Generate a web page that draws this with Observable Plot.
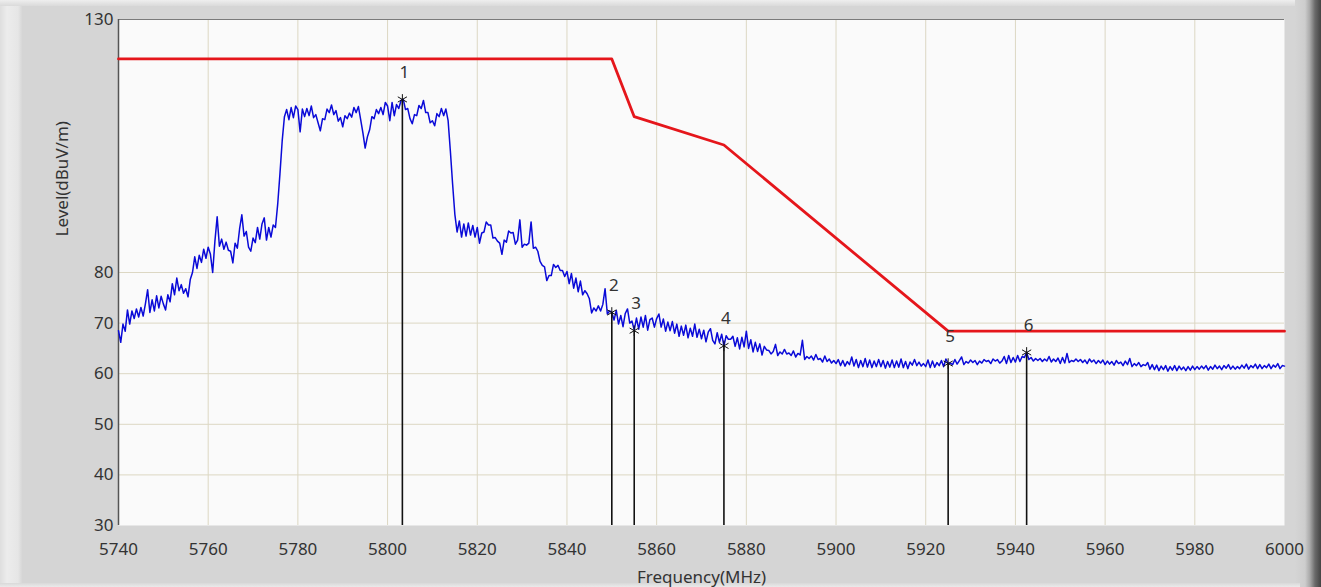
<!DOCTYPE html>
<html>
<head>
<meta charset="utf-8">
<script src="https://cdn.jsdelivr.net/npm/d3@7"></script>
<script src="https://cdn.jsdelivr.net/npm/@observablehq/plot@0.6"></script>
<style>
  html, body { margin: 0; padding: 0; background: #d5d5d5; }
  #wrap { position: relative; width: 1321px; height: 587px; background: #d5d5d5; overflow: hidden; }
  #wrap .edge { position: absolute; }
  #leftEdge { left: 0; top: 0; width: 22px; height: 587px; background: linear-gradient(to right, #dedede 0px, #ececec 7px, #e6e6e6 18px, #d7d7d7 22px); }
  #topEdge { left: 0; top: 0; width: 1321px; height: 6px; background: linear-gradient(to bottom, #eeeeee, #dadada); }
  #rightEdge { right: 0; top: 0; width: 26px; height: 587px; background: linear-gradient(to right, #d5d5d5 0px, #cdcdcd 10px, #a8a8a8 15px, #6a6a6a 20px, #444444 26px); }
  #bottomEdge { left: 0; bottom: 0; width: 1300px; height: 4px; background: linear-gradient(to bottom, #d9d9d9, #eaeaea); }
  #chart { position: absolute; left: 0; top: 0; }
</style>
</head>
<body>
<div id="wrap">
  <div class="edge" id="leftEdge"></div>
  <div class="edge" id="topEdge"></div>
  <div class="edge" id="rightEdge"></div>
  <div class="edge" id="bottomEdge"></div>
  <div id="chart"></div>
</div>
<script>
// ---- Data ----
const sweepStartMHz = 5740;
const sweepStepMHz = 0.5;
const traceLevels = [
  68.5, 66.2, 69.8, 68.4, 72.6, 69.8, 72.4, 70.9, 72.8, 71.2, 73.1, 71.4, 73.8, 76.6, 72.1, 74.6, 72.4, 75.4, 73.0, 75.3,
  73.8, 72.6, 75.6, 74.2, 77.8, 75.6, 78.9, 76.4, 77.6, 75.9, 76.8, 75.2, 78.6, 80.0, 83.1, 80.8, 83.4, 82.0, 84.6, 82.8,
  85.0, 83.6, 80.0, 86.2, 91.0, 85.2, 86.6, 84.6, 86.0, 84.4, 84.2, 81.9, 85.8, 84.8, 88.6, 91.4, 87.2, 88.1, 85.0, 84.2,
  86.8, 85.9, 88.9, 86.6, 89.6, 90.8, 86.4, 88.9, 87.0, 89.4, 88.9, 93.5, 99.5, 106.0, 110.8, 112.2, 110.2, 112.6, 110.6, 112.9,
  112.2, 107.8, 112.3, 110.8, 112.4, 111.0, 112.9, 110.6, 111.2, 109.6, 108.0, 110.4, 110.2, 112.3, 111.6, 113.1, 111.2, 112.0, 109.9, 110.6,
  108.8, 111.0, 110.4, 111.5, 110.7, 112.6, 111.6, 112.8, 110.2, 107.6, 104.6, 106.8, 108.2, 110.8, 110.4, 112.2, 111.4, 112.6, 111.2, 113.6,
  112.9, 110.0, 113.6, 111.0, 113.2, 112.4, 114.0, 114.2, 112.2, 112.4, 110.4, 109.4, 111.2, 111.0, 113.0, 112.4, 114.0, 111.6, 111.6, 109.6,
  110.0, 109.0, 111.4, 110.8, 112.4, 111.0, 112.3, 110.0, 104.0, 97.5, 91.5, 88.0, 90.2, 87.0, 89.6, 87.2, 89.8, 87.4, 89.3, 87.0,
  88.9, 85.8, 87.8, 88.0, 90.0, 89.4, 89.4, 86.8, 86.9, 86.2, 85.8, 83.6, 86.4, 86.0, 88.2, 87.8, 87.9, 85.6, 86.4, 90.4,
  85.0, 85.6, 85.4, 85.8, 90.0, 84.8, 85.0, 84.2, 82.2, 81.4, 81.1, 78.4, 79.4, 79.4, 81.6, 81.0, 81.4, 80.4, 80.4, 79.2,
  80.2, 77.8, 79.8, 76.9, 78.9, 76.2, 78.3, 75.6, 76.4, 75.8, 74.8, 72.0, 73.0, 72.4, 73.4, 72.4, 73.7, 76.8, 71.8, 72.4,
  72.1, 70.6, 72.5, 69.8, 71.5, 69.3, 71.9, 72.8, 70.0, 70.4, 68.6, 71.0, 68.8, 71.2, 69.2, 71.5, 68.6, 70.7, 71.0, 69.2,
  70.9, 71.8, 69.2, 70.8, 68.4, 70.2, 68.5, 70.3, 68.0, 69.8, 67.4, 69.4, 67.6, 69.6, 67.1, 69.0, 67.4, 69.8, 67.2, 68.8,
  66.9, 68.6, 66.3, 68.2, 68.9, 66.6, 65.9, 68.1, 66.2, 67.8, 65.5, 67.5, 66.8, 66.8, 67.4, 65.4, 67.1, 64.9, 67.2, 65.3,
  68.4, 65.0, 66.7, 64.3, 66.2, 64.4, 65.9, 63.7, 65.4, 64.7, 64.6, 63.9, 64.4, 65.8, 63.6, 64.3, 63.9, 64.8, 63.9, 64.1,
  63.6, 64.5, 63.3, 64.0, 63.7, 66.6, 62.8, 63.4, 63.0, 63.5, 62.7, 63.8, 62.8, 63.0, 62.3, 63.5, 62.4, 62.9, 62.1, 62.6,
  62.0, 62.8, 61.6, 62.6, 61.5, 62.4, 61.8, 63.3, 61.5, 62.8, 61.2, 62.6, 61.4, 63.0, 61.3, 62.7, 61.2, 62.5, 61.4, 62.8,
  61.4, 62.6, 61.1, 62.4, 61.3, 62.7, 61.2, 62.5, 61.3, 62.9, 61.2, 62.4, 61.0, 62.3, 61.7, 62.8, 61.6, 62.3, 61.5, 62.0,
  61.4, 62.7, 61.2, 62.5, 61.3, 62.2, 61.6, 62.6, 61.4, 62.9, 62.0, 62.1, 61.8, 62.8, 61.9, 62.6, 63.3, 61.8, 62.4, 62.1,
  62.7, 62.2, 62.6, 61.8, 62.5, 62.1, 62.8, 62.4, 62.6, 62.0, 62.9, 62.5, 62.8, 62.1, 62.5, 63.4, 62.0, 63.6, 62.2, 63.2,
  62.3, 63.6, 62.4, 63.4, 63.2, 64.2, 62.8, 63.2, 62.5, 63.0, 62.6, 63.0, 62.4, 62.9, 62.5, 63.4, 62.3, 62.9, 62.4, 63.1,
  62.0, 63.2, 62.1, 64.0, 62.2, 62.6, 62.4, 62.9, 62.4, 62.8, 62.2, 62.7, 62.0, 62.9, 62.3, 62.7, 62.0, 62.6, 62.1, 62.7,
  61.8, 62.5, 61.9, 62.4, 61.7, 62.6, 62.0, 62.3, 61.6, 62.5, 61.8, 63.0, 61.4, 62.0, 61.6, 62.2, 61.4, 61.8, 61.6, 62.2,
  60.9, 61.8, 60.8, 61.7, 60.6, 61.5, 60.8, 61.6, 60.5, 61.4, 60.7, 61.6, 60.6, 61.5, 60.8, 61.3, 60.6, 61.4, 60.7, 61.5,
  60.8, 61.4, 60.9, 61.5, 61.0, 61.6, 60.7, 61.4, 60.9, 61.7, 61.0, 61.5, 60.8, 61.6, 61.1, 61.8, 60.9, 61.5, 60.9, 61.4,
  61.0, 61.7, 61.1, 61.9, 60.9, 61.6, 61.2, 61.9, 61.0, 61.8, 61.0, 61.6, 61.2, 61.9, 61.0, 61.7, 61.3, 62.0, 61.0, 61.6,
  61.5
];
const limitFreqs = [5740, 5850, 5855, 5875, 5925, 6000];
const limitLevels = [122.2, 122.2, 110.8, 105.2, 68.4, 68.4];
const markerIds = ["1", "2", "3", "4", "5", "6"];
const markerFreqs = [5803.3, 5850.0, 5855.0, 5875.0, 5925.0, 5942.5];
const markerLevels = [114.2, 72.1, 68.5, 65.5, 62.0, 64.2];
const xTicks = [5740, 5760, 5780, 5800, 5820, 5840, 5860, 5880, 5900, 5920, 5940, 5960, 5980, 6000];
const xGridLines = [5760, 5780, 5800, 5820, 5840, 5860, 5880, 5900, 5920, 5940, 5960, 5980];
const yTicks = [30, 40, 50, 60, 70, 80, 130];
const yGridLines = [40, 50, 60, 70, 80];
const xLabel = "Frequency(MHz)";
const yLabel = "Level(dBuV/m)";

// ---- Tables ----
const trace = traceLevels.map((v, i) => ({f: sweepStartMHz + i * sweepStepMHz, v}));
const limit = limitFreqs.map((f, i) => ({f, v: limitLevels[i]}));
const markers = markerIds.map((id, i) => ({id, f: markerFreqs[i], v: markerLevels[i]}));

const textColor = "#333333";
const fs = 17;
const chart = Plot.plot({
  width: 1321,
  height: 587,
  marginLeft: 118,
  marginRight: 37,
  marginTop: 19,
  marginBottom: 62,
  style: {fontFamily: "'Noto Sans', 'Open Sans', sans-serif", fontSize: fs + "px", color: textColor, background: "transparent", overflow: "visible"},
  x: {domain: [5740, 6000], axis: null},
  y: {domain: [30, 130], axis: null},
  marks: [
    Plot.frame({fill: "#fafafa", stroke: null}),
    Plot.gridX(xGridLines, {stroke: "#dcd7c3", strokeOpacity: 1, strokeWidth: 1}),
    Plot.gridY(yGridLines, {stroke: "#dcd7c3", strokeOpacity: 1, strokeWidth: 1}),
    Plot.ruleY([130], {stroke: "#7a7a7a", strokeWidth: 1.2}),
    Plot.ruleX([5740], {stroke: "#555555", strokeWidth: 1.5}),
    Plot.line(limit, {x: "f", y: "v", stroke: "#e5161b", strokeWidth: 2.8, curve: "linear"}),
    Plot.line(trace, {x: "f", y: "v", stroke: "#0a0ad8", strokeWidth: 1.5, curve: "linear"}),
    Plot.ruleX(markers, {x: "f", y1: 30, y2: "v", stroke: "#111111", strokeWidth: 1.6}),
    Plot.dot(markers, {x: "f", y: "v", symbol: "asterisk", r: 5, stroke: "#111111", strokeWidth: 1}),
    Plot.text(markers, {x: "f", y: "v", text: "id", dy: -27, dx: 2, fontSize: fs, fill: textColor}),
    Plot.axisX(xTicks, {tickSize: 0, tickPadding: 17, tickFormat: d => String(d), fontSize: fs, label: null, fill: textColor}),
    Plot.axisY(yTicks, {tickSize: 0, tickPadding: 5, tickFormat: d => String(d), fontSize: fs, label: null, fill: textColor}),
    Plot.text([xLabel], {frameAnchor: "bottom", dy: 52, fontSize: fs, fill: textColor, lineAnchor: "middle"}),
    Plot.text([yLabel], {frameAnchor: "left", dx: -56, dy: -36, rotate: -90, fontSize: fs, fill: textColor, lineAnchor: "middle"})
  ]
});
document.getElementById("chart").appendChild(chart);
</script>
</body>
</html>
